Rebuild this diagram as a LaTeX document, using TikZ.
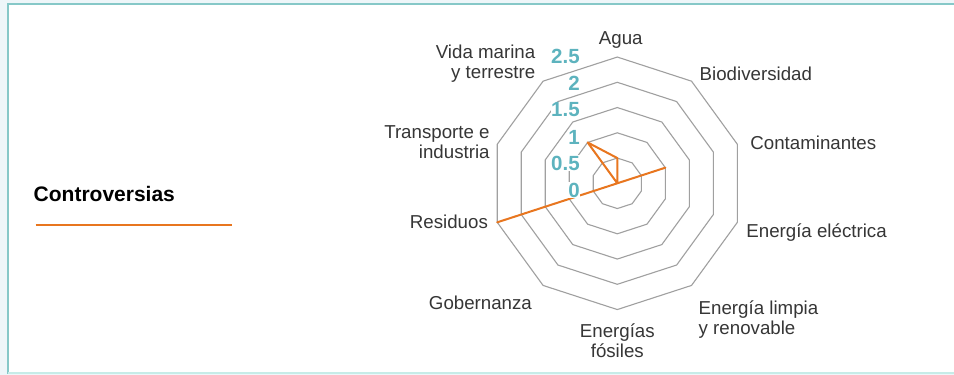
\documentclass[tikz,border=0pt]{standalone}
\usepackage{fontspec}
\setmainfont{Liberation Sans}
\usetikzlibrary{positioning}
\definecolor{pagebg}{HTML}{EEF6F9}
\definecolor{frameteal}{HTML}{86C8C8}
\definecolor{framelight}{HTML}{C6ECE8}
\definecolor{ringgray}{HTML}{A0A0A0}
\definecolor{tickteal}{HTML}{5DB3BE}
\definecolor{dataorange}{HTML}{E8761F}
\definecolor{labelgray}{HTML}{363636}
\newcommand{\runit}{50.5}

\begin{document}
\begin{tikzpicture}[x=1pt, y=1pt, thick,
  axis/.style={text=labelgray, font=\fontsize{18.7}{20}\selectfont, inner sep=0pt},
  tick/.style={text=tickteal, font=\fontsize{20.5}{20}\selectfont\bfseries, fill=white, inner sep=0.6pt, anchor=east},
  ring/.style={draw=ringgray, line width=1.1pt},
  data/.style={draw=dataorange, line width=2pt, line join=round}]
  \useasboundingbox (0,0) rectangle (954,-375);
  % frame
  \fill[pagebg] (0,0) rectangle (954,-375);
  \draw[frameteal, line width=2pt, fill=white] (8.3,-3.8) rectangle (962,-373);
  \draw[framelight, line width=2pt] (8.3,-373) -- (962,-373);

  % legend
  \node [anchor=base west, inner sep=0pt, font=\fontsize{21}{24}\selectfont\bfseries] (legend) at (33.3,-201) {Controversias};
  \coordinate (swatchL) at (35.7,-225);
  \coordinate (swatchR) at (231.7,-225);
  \draw [dataorange, line width=2.2pt] (swatchL) -- (swatchR);

  % radar
  \begin{scope}[shift={(617.3,-183.3)}]
    \coordinate (center) at (0,0);
    \foreach \v in {0.5,1,1.5,2,2.5}
      \draw [ring] (90:{\v*\runit}) \foreach \k in {1,...,9} { -- ({90+36*\k}:{\v*\runit}) } -- cycle;

    % data
    \coordinate (agua-v) at (90:{0.5*\runit});
    \coordinate (cont-v) at (18:{1*\runit});
    \coordinate (res-v) at (198:{2.5*\runit});
    \coordinate (vida-v) at (126:{1*\runit});
    \draw [data] (agua-v) -- (center) -- (cont-v) -- (center) -- (res-v) -- (center) -- (vida-v) -- cycle;
  \end{scope}

  % ticks
  \node [tick] (t0) at (580.7,-190) {0};
  \node [tick] (t05) at (580.7,-163.3) {0.5};
  \node [tick] (t1) at (580.7,-137.3) {1};
  \node [tick] (t15) at (580.7,-110) {1.5};
  \node [tick] (t2) at (580.7,-83.3) {2};
  \node [tick] (t25) at (580.7,-56.7) {2.5};

  % axis labels
  \node [axis, anchor=base] (agua) at (620.8,-44) {Agua};
  \node [axis, anchor=base west] (bio) at (699.3,-80.5) {Biodiversidad};
  \node [axis, anchor=base west] (cont) at (750,-149) {Contaminantes};
  \node [axis, anchor=base west] (eel) at (746,-237.3) {Energía eléctrica};
  \node [axis, anchor=base west, align=left] (elim) at (698.3,-334) {Energía limpia\\y renovable};
  \node [axis, anchor=base, align=center] (efos) at (617.3,-357.3) {Energías\\fósiles};
  \node [axis, anchor=base east] (gob) at (532.3,-309.3) {Gobernanza};
  \node [axis, anchor=base east] (res) at (488.3,-228.7) {Residuos};
  \node [axis, anchor=base east, align=right] (trans) at (490,-158.3) {Transporte e\\industria};
  \node [axis, anchor=base east, align=right] (vida) at (535.7,-78.3) {Vida marina\\y terrestre};
\end{tikzpicture}
\end{document}
